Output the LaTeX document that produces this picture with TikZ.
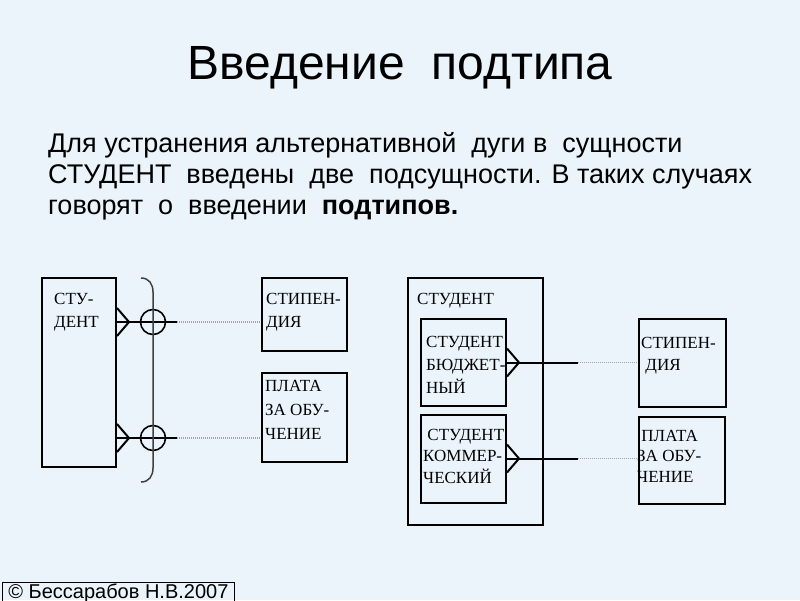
\documentclass[tikz,border=0pt]{standalone}
\usepackage{fontspec}
\setmainfont{Liberation Sans}
\newfontfamily\erfont{Liberation Serif}
\usetikzlibrary{positioning}
\definecolor{slide}{RGB}{234,244,250}
\definecolor{dotline}{RGB}{160,165,170}
\tikzset{
    normal/.style={draw, line width=2pt},
    ent/.style={style=normal, rectangle, inner sep=0}, % entity box
    nm/.style={font=\erfont\fontsize{17}{23}\selectfont, align=left, anchor=base west, inner sep=0},
    rel/.style={style=normal},
    opt/.style={style=normal, line width=1.6pt, circle, inner sep=0, minimum size=25pt}, % optional mark
    dl/.style={draw=dotline, line width=1.5pt, dash pattern=on 1pt off 1pt}, % dotted link
    body/.style={anchor=base west, inner sep=0, font=\fontsize{27}{27}\selectfont}
}

\begin{document}
\begin{tikzpicture}[x=1pt, y=-1pt]
  \fill[slide] (0,0) rectangle (800,600);
  \useasboundingbox (0,0) rectangle (800,600);

  \node[anchor=base, inner sep=0, font=\fontsize{48}{48}\selectfont] (title) at (400,79) {Введение~ подтипа};
  \node[body] (txt_a) at (48,152) {Для устранения альтернативной~ дуги в~ сущности};
  \node[body] (txt_b) at (48,183) {СТУДЕНТ~ введены~ две~ подсущности. В таких случаях};
  \node[body] (txt_c) at (48,214) {говорят~ о~ введении~ \textbf{подтипов.}};

  % left: alternative arc
  \node[ent, minimum width=74pt, minimum height=189pt] (stud) at (79,372.5) {};
  \node[nm] (stud_t) at (54,327) {СТУ-\\ДЕНТ};
  \node[ent, minimum width=85pt, minimum height=73pt] (stip_l) at (304.5,314.5) {};
  \node[nm] (stip_lt) at (266,327) {СТИПЕН-\\ДИЯ};
  \node[ent, minimum width=85pt, minimum height=89pt] (pl_l) at (304.5,417.5) {};
  \node[nm, font=\erfont\fontsize{17}{24}\selectfont] (pl_lt) at (265,439) {ПЛАТА\\ЗА ОБУ-\\ЧЕНИЕ};

  \node[opt] (o_top) at (153,322) {};
  \node[opt] (o_bot) at (153,438) {};
  \coordinate (e_top) at (177,322);
  \coordinate (e_bot) at (177,438);
  \draw[rel] (stud.east |- o_top) -- (e_top);
  \draw[rel] (stud.east |- o_bot) -- (e_bot);
  \draw[rel] (stud.east |- o_top) ++(0,-14) -- ++(12,14) -- ++(-12,14);
  \draw[rel] (stud.east |- o_bot) ++(0,-14) -- ++(12,14) -- ++(-12,14);
  \draw[dl] (e_top) -- (stip_l.west |- e_top);
  \draw[dl] (e_bot) -- (pl_l.west |- e_bot);
  \draw[line width=1.5pt, black!75] (141,278) .. controls (149,278) and (153,284) .. (153,292)
    -- (153,468) .. controls (153,476) and (149,482) .. (141,482);

  % right: subtypes
  \node[ent, minimum width=135pt, minimum height=247pt] (stud_r) at (475.5,401.5) {};
  \node[nm] (stud_rt) at (417,304) {СТУДЕНТ};
  \node[ent, minimum width=85pt, minimum height=87pt] (bud) at (463.5,362.5) {};
  \node[nm] (bud_t) at (426,393) {СТУДЕНТ\\БЮДЖЕТ-\\НЫЙ};
  \node[ent, minimum width=85pt, minimum height=88pt] (kom) at (463.5,458.5) {};
  \node[nm, font=\erfont\fontsize{17}{21.5}\selectfont] (kom_t) at (423,483) {\ СТУДЕНТ\\КОММЕР-\\ЧЕСКИЙ};
  \node[ent, minimum width=87pt, minimum height=88pt] (stip_r) at (682.5,363) {};
  \node[nm, font=\erfont\fontsize{17}{22}\selectfont] (stip_rt) at (641,370) {СТИПЕН-\\\ ДИЯ};
  \node[ent, minimum width=86pt, minimum height=87pt] (pl_r) at (682,460.5) {};
  \node[nm, font=\erfont\fontsize{17}{20.5}\selectfont] (pl_rt) at (637,482) {\ ПЛАТА\\ЗА ОБУ-\\ЧЕНИЕ};

  \coordinate (e_a) at (578,362.5);
  \coordinate (e_b) at (578,458.5);
  \draw[rel] (bud.east) -- (e_a);
  \draw[rel] (kom.east) -- (e_b);
  \draw[rel] (bud.east) ++(0,-14) -- ++(12,14) -- ++(-12,14);
  \draw[rel] (kom.east) ++(0,-14) -- ++(12,14) -- ++(-12,14);
  \draw[dl] (e_a) -- (stip_r.west |- e_a);
  \draw[dl] (e_b) -- (pl_r.west |- e_b);

  \node[draw, line width=0.8pt, anchor=north west, inner xsep=6pt, inner ysep=1pt,
    font=\fontsize{20}{20}\selectfont] (copy) at (2,582) {© Бессарабов Н.В.2007};
\end{tikzpicture}
\end{document}
